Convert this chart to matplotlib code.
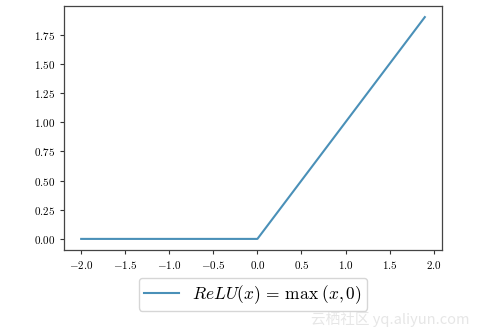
import matplotlib
matplotlib.use("Agg")
import matplotlib.pyplot as plt

# points (kink at 0)
x_vals = [-2.0, 0.0, 1.9]
y_vals = [0.0, 0.0, 1.9]
legend_label = r'$ReLU(x)\,=\,\max\;(x,0)$'
watermark = '云栖社区 yq.aliyun.com'

plt.rcParams['font.family'] = 'serif'
plt.rcParams['font.serif'] = ['cmr10']
plt.rcParams['mathtext.fontset'] = 'cm'
plt.rcParams['axes.formatter.use_mathtext'] = True

fig = plt.figure(figsize=(4.8, 3.36), dpi=100)
ax = fig.add_axes([64/480, 1 - 250/336, 378/480, 244/336])
ax.plot(x_vals, y_vals, color='#4a90b8', linewidth=1.5, label=legend_label)

ax.set_xticks([-2.0, -1.5, -1.0, -0.5, 0.0, 0.5, 1.0, 1.5, 2.0])
ax.set_yticks([0.0, 0.25, 0.5, 0.75, 1.0, 1.25, 1.5, 1.75])
ax.tick_params(labelsize=8, length=3, color='#333333')
for s in ax.spines.values():
    s.set_color('#444444')
    s.set_linewidth(0.9)

leg = ax.legend(loc='upper center', bbox_to_anchor=(0.5, -0.078), fontsize=12.5,
                frameon=True, handlelength=2.0, borderpad=0.3)
leg.get_frame().set_edgecolor('#cccccc')

fig.text(0.978, 0.048, watermark, ha='right', va='center', fontsize=10.5,
         color='#e6e6e6', family=['Noto Sans CJK SC', 'DejaVu Sans'])

fig.savefig('out.png', dpi=100)
